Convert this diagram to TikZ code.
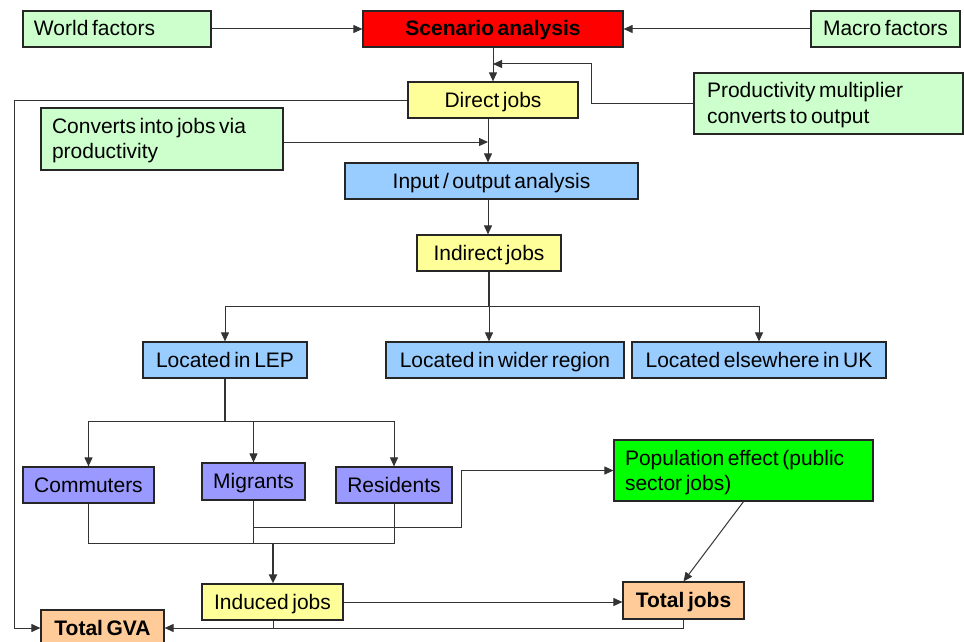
\documentclass[tikz,border=0pt]{standalone}
\usepackage{fontspec}
\setmainfont{Liberation Sans}
\usetikzlibrary{arrows.meta}
\definecolor{lgreen}{HTML}{CCFFCC}
\definecolor{bred}{HTML}{FF0000}
\definecolor{lyellow}{HTML}{FFFF99}
\definecolor{lblue}{HTML}{99CCFF}
\definecolor{lpurple}{HTML}{9999FF}
\definecolor{bgreen}{HTML}{00FF00}
\definecolor{lorange}{HTML}{FFCC99}
\newcommand\boxfont{\fontsize{21}{25}\selectfont\spaceskip=3.6pt plus 1pt minus 0.5pt\relax}
\tikzset{
  box/.style={draw=black!85, line width=1.2pt, inner sep=0pt, text height=15pt, text depth=1pt, font=\boxfont},
  lbox/.style={box, inner xsep=11pt, align=flush left},
  mbox/.style={lbox, text depth=26pt},
  bbox/.style={box, font=\boxfont\bfseries},
  conn/.style={draw=black!80, line width=1pt},
  arr/.style={conn, -{Triangle[length=9pt,width=8pt]}},
}
\begin{document}
\begin{tikzpicture}[x=1pt,y=-1pt]
\useasboundingbox (0,0) rectangle (964,642);
% nodes
\node[lbox, fill=lgreen, minimum height=36pt, text width=166pt] (wf) at (117,29) {World factors};
\node[bbox, fill=bred, minimum width=260pt, minimum height=36pt] (sa) at (493,29) {Scenario analysis};
\node[box, fill=lgreen, minimum width=149pt, minimum height=36pt] (mf) at (885.5,29) {Macro factors};
\node[box, fill=lyellow, minimum width=170pt, minimum height=36pt] (dj) at (493,100) {Direct jobs};
\node[mbox, fill=lgreen, minimum height=61pt, inner xsep=13pt, text width=243pt] (pm) at (828.5,103.5) {Productivity multiplier\\converts to output};
\node[mbox, fill=lgreen, minimum height=62pt, text width=220pt] (cj) at (162,139) {Converts into jobs via\\productivity};
\node[box, fill=lblue, minimum width=293pt, minimum height=36pt] (io) at (491.5,181) {Input / output analysis};
\node[box, fill=lyellow, minimum width=144pt, minimum height=36pt] (ij) at (489,253) {Indirect jobs};
\node[box, fill=lblue, minimum width=164pt, minimum height=36pt] (lep) at (225,360) {Located in LEP};
\node[box, fill=lblue, minimum width=238pt, minimum height=36pt] (lwr) at (505,360) {Located in wider region};
\node[box, fill=lblue, minimum width=254pt, minimum height=36pt] (leu) at (759,360) {Located elsewhere in UK};
\node[box, fill=lpurple, minimum width=131pt, minimum height=36pt] (com) at (88.5,485) {Commuters};
\node[box, fill=lpurple, minimum width=103pt, minimum height=37pt] (mig) at (253.5,481.5) {Migrants};
\node[box, fill=lpurple, minimum width=116pt, minimum height=36pt] (res) at (394,485) {Residents};
\node[mbox, fill=bgreen, minimum height=61pt, text width=237pt] (pe) at (743.5,470.5) {Population effect (public\\sector jobs)};
\node[box, fill=lyellow, minimum width=141pt, minimum height=36pt] (ind) at (272.5,602) {Induced jobs};
\node[bbox, fill=lorange, minimum width=123pt, minimum height=36pt] (gva) at (102.5,628) {Total GVA};
\node[bbox, fill=lorange, minimum width=121pt, minimum height=37pt] (tj) at (683.5,600.5) {Total jobs};
% helper coordinates
\coordinate (j1) at (493,64);
\coordinate (c488) at (488,0);
\coordinate (b1) at (489,306);
\coordinate (b2) at (225,421);
\coordinate (b3) at (273,543);
\coordinate (b4) at (253.5,527);
\coordinate (b5) at (273,628);
% connectors
\draw[arr] (wf.east) -- (sa.west);
\draw[arr] (mf.west) -- (sa.east);
\draw[arr] (sa.south) -- (dj.north);
\draw[arr] (pm.west) -- (591,103.5) -- (591,64) -- (j1);
\draw[arr] (dj.west) -- (14,100) |- (gva.west);
\draw[arr] (dj.south -| c488) -- (io.north -| c488);
\draw[arr] ([yshift=-3pt]cj.east) -- ([yshift=-3pt]cj.east -| c488);
\draw[arr] (io.south -| c488) -- (ij.north -| c488);
\draw[conn, line width=1.5pt] (ij.south) -- (b1);
\draw[arr] (b1) -| (lep.north);
\draw[arr] (b1) -- (b1 |- lwr.north);
\draw[arr] (b1) -| (leu.north);
\draw[conn, line width=1.5pt] (lep.south) -- (b2);
\draw[arr] (b2) -| (com.north);
\draw[arr] (b2) -| (mig.north);
\draw[arr] (b2) -| (res.north);
\draw[conn] (com.south) |- (b3);
\draw[conn] (res.south) |- (b3);
\draw[conn] (mig.south) -- (b4) -- (b4 |- b3) -- (b3);
\draw[arr] (b4) -- (461,527) |- (pe.west);
\draw[arr, line width=2pt] (b3) -- (ind.north -| b3);
\draw[arr] (ind.east) -- (ind.east -| tj.west);
\draw[conn] (ind.south -| b5) -- (b5);
\draw[arr] (tj.south) |- (gva.east);
\draw[arr] (pe.south) -- (tj.north);
\end{tikzpicture}
\end{document}
